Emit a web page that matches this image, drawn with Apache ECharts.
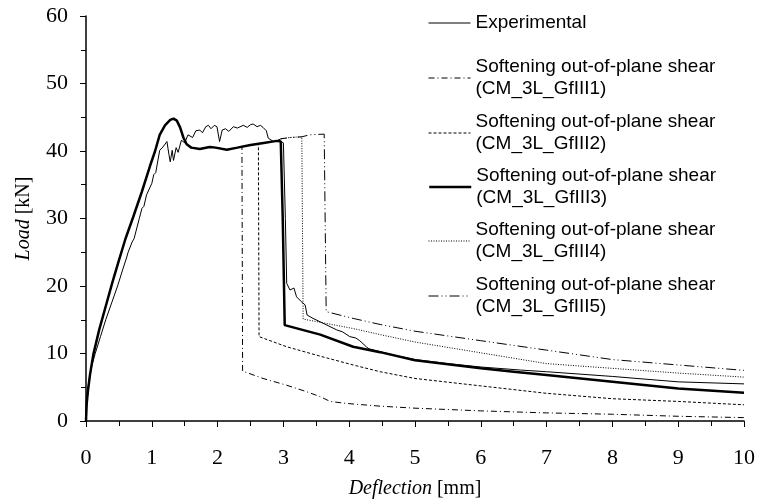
<!DOCTYPE html>
<html><head><meta charset="utf-8">
<script src="https://cdn.jsdelivr.net/npm/echarts@6/dist/echarts.min.js"></script>
<style>html,body{margin:0;padding:0;background:#fff}#c{width:763px;height:504px}</style>
</head><body><div id="c"></div>
<script>
const xTicks = [0,1,2,3,4,5,6,7,8,9,10];
const yTicks = [0,10,20,30,40,50,60];
const seriesNames = [
  'Experimental',
  'Softening out-of-plane shear\n(CM_3L_GfIII1)',
  'Softening out-of-plane shear\n(CM_3L_GfIII2)',
  'Softening out-of-plane shear\n(CM_3L_GfIII3)',
  'Softening out-of-plane shear\n(CM_3L_GfIII4)',
  'Softening out-of-plane shear\n(CM_3L_GfIII5)'
];
const experimental = [[0,0],[0.01,3],[0.03,5],[0.07,7.5],[0.14,10],[0.22,12.5],[0.3,15],[0.39,17.5],[0.48,20],[0.56,22.5],[0.62,24.3],[0.64,25],[0.7,26.5],[0.73,27],[0.81,30],[0.85,31.5],[0.88,31.8],[0.92,33.5],[1.0,35.2],[1.03,36.5],[1.06,36.8],[1.12,40.1],[1.17,40.6],[1.23,41.4],[1.26,39.5],[1.28,38.4],[1.31,40.1],[1.33,38.6],[1.37,40.5],[1.4,39.8],[1.45,41.6],[1.5,41.2],[1.55,42.4],[1.58,42.6],[1.62,42.0],[1.67,43.0],[1.73,43.1],[1.77,42.7],[1.82,43.6],[1.86,43.8],[1.9,43.3],[1.95,43.8],[1.99,43.6],[2.03,41.4],[2.07,43.1],[2.12,43.3],[2.17,42.9],[2.24,43.6],[2.3,43.4],[2.39,43.8],[2.45,43.5],[2.5,43.9],[2.54,44.0],[2.6,43.6],[2.65,43.8],[2.69,43.5],[2.74,43.0],[2.77,41.9],[2.85,41.4],[2.95,41.5],[3.0,41.2],[3.03,30],[3.05,20.4],[3.1,19.4],[3.13,19.2],[3.16,19.7],[3.2,18.4],[3.27,17.7],[3.33,17.2],[3.36,15.7],[3.45,15.2],[3.6,14.5],[3.81,13.5],[3.9,13.2],[4.01,12.5],[4.1,12.3],[4.16,11.9],[4.26,11.0],[4.3,10.7],[4.5,10.2],[4.75,9.6],[5,9.1],[5.5,8.5],[6,8.0],[6.6,7.55],[7,7.3],[8,6.6],[9,5.8],[10,5.5]];
const simRise = [[0,0],[0.01,2.5],[0.03,4.5],[0.06,6.8],[0.11,9.8],[0.2,13.5],[0.3,17],[0.4,20.5],[0.5,23.8],[0.6,27],[0.72,30.3],[0.85,34],[0.97,37.7],[1.05,40],[1.12,42.4],[1.2,43.8],[1.28,44.6],[1.33,44.8],[1.38,44.5],[1.43,43.5],[1.48,42],[1.53,41],[1.6,40.5],[1.73,40.3],[1.88,40.6],[1.97,40.5],[2.14,40.2],[2.3,40.5]];
const gf1Tail = [[2.37,40.7],[2.38,7.4],[2.69,6.3],[3.05,5.3],[3.35,4.35],[3.56,3.6],[3.71,2.9],[3.96,2.6],[4.47,2.2],[5,1.9],[6,1.5],[7,1.2],[8,1.0],[9,0.7],[10,0.5]];
const gf2Tail = [[2.5,40.9],[2.62,41.0],[2.63,12.5],[3.05,11.0],[3.56,9.6],[4.06,8.3],[4.47,7.3],[5,6.3],[6,5.2],[7,4.1],[8,3.3],[9,2.9],[10,2.4]];
const gf3Tail = [[2.5,40.9],[2.7,41.2],[2.9,41.5],[2.96,41.4],[2.99,30],[3.02,14.2],[3.56,12.8],[4.06,11.0],[4.47,10.2],[5,9.0],[6,7.8],[6.5,7.3],[7,6.8],[8,5.8],[9,4.8],[10,4.2]];
const gf4Tail = [[2.5,40.9],[2.7,41.2],[2.9,41.5],[2.96,41.8],[3.1,42.0],[3.28,42.1],[3.3,15.1],[4.06,13.7],[4.47,12.8],[5,11.7],[6,10.1],[7,8.5],[8,7.8],[9,7.1],[10,6.5]];
const gf5Tail = [[2.5,40.9],[2.7,41.2],[2.9,41.5],[2.96,41.8],[3.1,42.0],[3.28,42.1],[3.4,42.4],[3.62,42.5],[3.65,16.2],[4.06,15.2],[4.47,14.3],[5,13.3],[6,11.9],[7,10.5],[8,9.1],[9,8.3],[10,7.5]];

const chart = echarts.init(document.getElementById('c'), null, {renderer:'canvas'});
const serif = 'Liberation Serif, Times New Roman, serif';
const sans = 'Liberation Sans, Arial, sans-serif';
const styles = [
  {width:1, type:'solid'},
  {width:1, type:[6,3,1,3]},
  {width:1, type:[3,2]},
  {width:2.5, type:'solid'},
  {width:1, type:[1,1.5]},
  {width:1, type:[10,3,1,3,1,3]}
];
const datas = [experimental, simRise.concat(gf1Tail), simRise.concat(gf2Tail), simRise.concat(gf3Tail), simRise.concat(gf4Tail), simRise.concat(gf5Tail)];
const legendTops = [23, 78, 133, 187, 241, 296];
const legends = seriesNames.map((n,i)=>({
  data:[n], orient:'vertical', left:428,
  top: i===0 ? legendTops[i]-11 : legendTops[i]-33,
  padding:0, itemWidth:42, itemHeight:14, itemGap:0,
  selectedMode:false,
  itemStyle:{opacity:0, borderWidth:0},
  lineStyle:{width:styles[i].width, type:styles[i].type, color:'#000'},
  textStyle:{fontFamily:sans, fontSize:19, color:'#000', lineHeight:22, padding: i===0 ? 0 : [22,0,0,0]}
}));
const order = [1,2,4,5,3,0];
chart.setOption({
  animation:false,
  backgroundColor:'#fff',
  grid:{left:86, right:19, top:16, bottom:83},
  legend: legends,
  xAxis:{type:'value', min:0, max:10, interval:1,
    axisLine:{lineStyle:{color:'#000', width:1.5}},
    axisTick:{show:true, length:6, lineStyle:{color:'#000'}},
    minorTick:{show:true, splitNumber:2, length:5, lineStyle:{color:'#000'}},
    splitLine:{show:false},
    axisLabel:{fontFamily:serif, fontSize:22, color:'#000', margin:26,
      formatter:v=>xTicks.includes(v)?String(v):''},
    name:'{i|Deflection} [mm]', nameLocation:'middle', nameGap:58,
    nameTextStyle:{fontFamily:serif, fontSize:20, color:'#000', rich:{i:{fontFamily:serif, fontSize:20, fontStyle:'italic', color:'#000'}}}
  },
  yAxis:{type:'value', min:0, max:60, interval:10,
    axisLine:{show:true, lineStyle:{color:'#000', width:1.5}},
    axisTick:{show:true, length:6, lineStyle:{color:'#000'}},
    minorTick:{show:true, splitNumber:2, length:5, lineStyle:{color:'#000'}},
    splitLine:{show:false},
    axisLabel:{fontFamily:serif, fontSize:22, color:'#000', margin:18,
      formatter:v=>yTicks.includes(v)?String(v):''},
    name:'{i|Load} [kN]', nameLocation:'middle', nameGap:52,
    nameTextStyle:{fontFamily:serif, fontSize:20, color:'#000', rich:{i:{fontFamily:serif, fontSize:20, fontStyle:'italic', color:'#000'}}}
  },
  series: order.map(i=>({
    name:seriesNames[i], type:'line', data:datas[i], showSymbol:false, symbol:'none',
    lineStyle:{color:'#000', width:styles[i].width, type:styles[i].type},
    itemStyle:{color:'#000'}, silent:true, z: i===0?5:(i===3?4:2)
  }))
});
</script></body></html>
